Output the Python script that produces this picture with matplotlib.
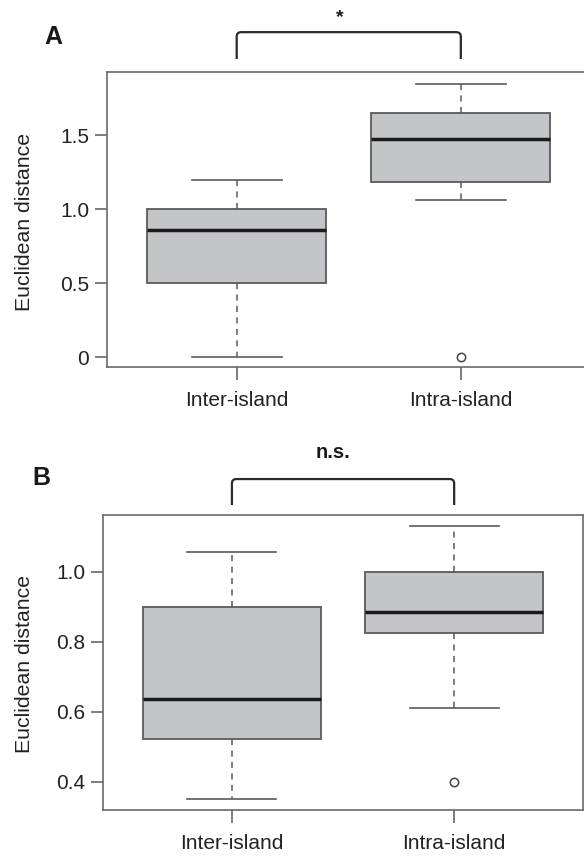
import matplotlib
matplotlib.use('Agg')
import matplotlib.pyplot as plt
import matplotlib.transforms as mtransforms
from matplotlib.path import Path
from matplotlib.patches import PathPatch

plt.rcParams['font.family'] = ['Liberation Sans', 'DejaVu Sans']

groups = ['Inter-island', 'Intra-island']

# panel A (whisker low, Q1, median, Q3, whisker high, outliers)
a_lo = [0.0, 1.065]
a_q1 = [0.50, 1.185]
a_med = [0.862, 1.475]
a_q3 = [1.00, 1.65]
a_hi = [1.20, 1.85]
a_out = [[], [0.0]]
a_ticks = [0, 0.5, 1.0, 1.5]
a_ticklabels = ['0', '0.5', '1.0', '1.5']

# panel B
b_lo = [0.35, 0.61]
b_q1 = [0.522, 0.824]
b_med = [0.635, 0.884]
b_q3 = [0.898, 1.0]
b_hi = [1.057, 1.131]
b_out = [[], [0.40]]
b_ticks = [0.4, 0.6, 0.8, 1.0]
b_ticklabels = ['0.4', '0.6', '0.8', '1.0']

GRAY = '#5a5a5a'


def draw_panel(ax, lo, q1, med, q3, hi, fliers, ticks, ticklabels, ylim):
    stats = []
    for i in range(len(groups)):
        stats.append(dict(whislo=lo[i], q1=q1[i], med=med[i], q3=q3[i],
                          whishi=hi[i], fliers=fliers[i], label=groups[i]))
    ax.bxp(stats, positions=[1, 2], widths=0.8, capwidths=0.4, patch_artist=True,
           boxprops=dict(facecolor='#c4c5c8', edgecolor=GRAY, linewidth=1.3),
           medianprops=dict(color='#1a1a1a', linewidth=2.5),
           whiskerprops=dict(color=GRAY, linewidth=1.1, linestyle=(0, (4, 3.5))),
           capprops=dict(color=GRAY, linewidth=1.2),
           flierprops=dict(marker='o', markersize=6, markerfacecolor='none',
                           markeredgecolor='#444444', markeredgewidth=1.1))
    ax.set_xlim(0.42, 2.58)
    ax.set_ylim(*ylim)
    ax.set_yticks(ticks)
    ax.set_yticklabels(ticklabels)
    for s in ax.spines.values():
        s.set_color('#6a6a6a')
        s.set_linewidth(1.2)
    ax.tick_params(axis='both', direction='out', length=9, width=1.1,
                   color=GRAY, labelsize=15, labelcolor='#222222')
    ax.tick_params(axis='x', pad=8)
    ax.tick_params(axis='y', pad=3.5)


def bracket(ax, y_bot, y_top):
    tr = mtransforms.blended_transform_factory(ax.transData, ax.transAxes)
    rx, ry = 0.02, 0.015
    verts = [(1, y_bot), (1, y_top - ry), (1, y_top), (1 + rx, y_top),
             (2 - rx, y_top), (2, y_top), (2, y_top - ry), (2, y_bot)]
    codes = [Path.MOVETO, Path.LINETO, Path.CURVE3, Path.CURVE3,
             Path.LINETO, Path.CURVE3, Path.CURVE3, Path.LINETO]
    ax.add_patch(PathPatch(Path(verts, codes), fill=False, edgecolor='#2a2a2a',
                           linewidth=1.6, transform=tr, clip_on=False))


fig = plt.figure(figsize=(5.84, 8.6), dpi=100)

axA = fig.add_axes([0.1827, 0.5733, 0.829, 0.343])
draw_panel(axA, a_lo, a_q1, a_med, a_q3, a_hi, a_out, a_ticks, a_ticklabels, (-0.066, 1.928))
bracket(axA, 1.044, 1.135)

axB = fig.add_axes([0.1764, 0.0581, 0.822, 0.343])
draw_panel(axB, b_lo, b_q1, b_med, b_q3, b_hi, b_out, b_ticks, b_ticklabels, (0.319, 1.162))
bracket(axB, 1.034, 1.122)

fig.text(25 / 584, 1 - 222 / 860, 'Euclidean distance', rotation=90,
         ha='center', va='center', fontsize=15.3, color='#222222')
fig.text(25 / 584, 1 - 664 / 860, 'Euclidean distance', rotation=90,
         ha='center', va='center', fontsize=15.3, color='#222222')

fig.text(53 / 584, 1 - 37 / 860, 'A', ha='center', va='center',
         fontsize=18, fontweight='bold', color='#1a1a1a')
fig.text(41 / 584, 1 - 478 / 860, 'B', ha='center', va='center',
         fontsize=18, fontweight='bold', color='#1a1a1a')
fig.text(340 / 584, 1 - 18 / 860, '*', ha='center', va='center',
         fontsize=14, fontweight='bold', color='#1a1a1a')
fig.text(333 / 584, 1 - 453 / 860, 'n.s.', ha='center', va='center',
         fontsize=14.5, fontweight='bold', color='#1a1a1a')

fig.savefig('out.png', dpi=100)
